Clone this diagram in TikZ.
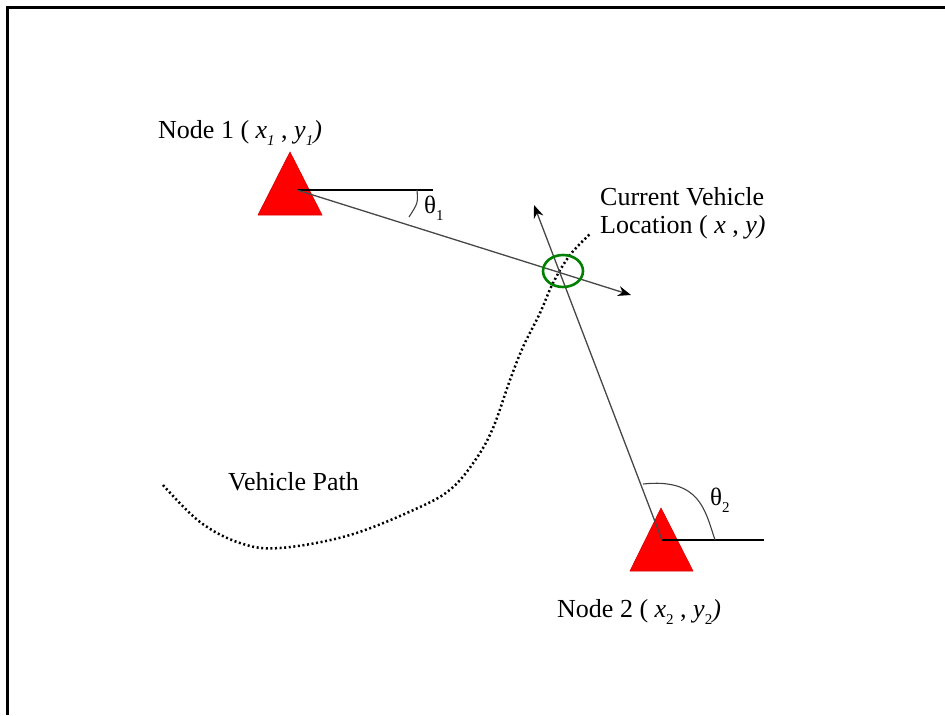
\documentclass[tikz,border=0pt]{standalone}
\usepackage{fontspec}
\setmainfont{Liberation Serif}
\usetikzlibrary{arrows.meta,shapes.geometric}
\newcommand\lsub[1]{\raisebox{-0.28em}{\fontsize{15}{15}\selectfont #1}}
\newcommand\tsub[1]{\raisebox{-0.3em}{\fontsize{15}{15}\selectfont #1}}
\begin{document}
\begin{tikzpicture}[x=1pt,y=-1pt,
  lbl/.style={anchor=base west,inner sep=0pt,font=\fontsize{26}{28}\selectfont},
  thlbl/.style={anchor=base west,inner sep=0pt,font=\fontsize{25}{27}\selectfont},
  beacon/.style={fill=red,draw=red!85!black,line width=0.6pt,line join=miter},
  ray/.style={line width=1.3pt,draw=black!72},
  refline/.style={line width=1.3pt,draw=black},
  tip/.style={-{Stealth[length=13pt,width=10pt,black]}},
  trail/.style={line width=2.5pt,dash pattern=on 2pt off 2.6pt,draw=black}]
\useasboundingbox (0,0) rectangle (945,715);
% frame (top and left edges only)
\draw[line width=2.6pt] (7.5,715) -- (7.5,7.5) -- (945,7.5);
% reference points
\coordinate (n1) at (297,190);
\coordinate (n2) at (662,540);
\coordinate (h1) at (433,190);
\coordinate (h2) at (764,540);
\coordinate (a1) at (631,295);
\coordinate (a2) at (534,205);
% beacons
\draw[beacon] (290,152) -- (322,215) -- (258,215) -- cycle;
\draw[beacon] (661,508) -- (693,571) -- (630,571) -- cycle;
% vehicle path
\draw[trail] plot[smooth,tension=0.6] coordinates {(163,485) (200,522) (240,543) (280,548) (350,535) (420,507) (452,488) (476,459) (493,428) (510,380) (523,347) (540,313) (553,283) (570,255) (590,234)};
% lines
\draw[refline] (n1) -- (h1);
\draw[refline] (n2) -- (h2);
\draw[ray,tip] (n1) -- (a1);
\draw[ray,tip] (n2) -- (a2);
% vehicle location
\node[ellipse,draw=green!50!black,line width=2.6pt,minimum width=40pt,minimum height=32pt,inner sep=0pt] (veh) at (563,271) {};
% angle arcs
\draw[line width=1.1pt,black!75] (417,190) .. controls (418,203) .. (409,217);
\draw[line width=1.1pt,black!75] (643,484) .. controls (700,478) and (705,510) .. (715,540);
% labels
\node[lbl] (l1) at (158,138) {Node 1 ( \textit{x}\lsub{\textit{1}} , \textit{y}\lsub{\textit{1}}\textit{)}};
\node[lbl] (l2) at (557,617) {Node 2 ( \textit{x}\lsub{2} , \textit{y}\lsub{2}\textit{)}};
\node[lbl] (lc) at (600,205) {Current Vehicle};
\node[lbl] (ll) at (600,233) {Location ( \textit{x} , \textit{y}\textit{)}};
\node[lbl] (lp) at (228,490) {Vehicle Path};
\node[thlbl] (t1) at (424,213) {θ\tsub{1}};
\node[thlbl] (t2) at (710,505) {θ\tsub{2}};
\end{tikzpicture}
\end{document}
